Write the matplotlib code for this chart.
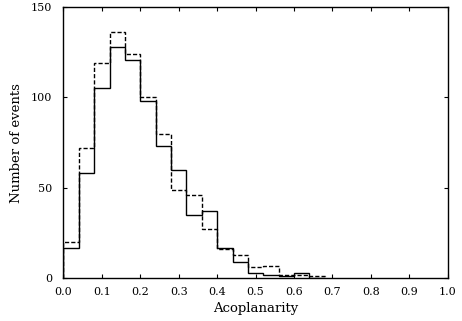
import matplotlib
matplotlib.use("Agg")
import matplotlib.pyplot as plt
import numpy as np

# acoplanarity histogram, bin width 0.04
bin_edges = [0.00, 0.04, 0.08, 0.12, 0.16, 0.20, 0.24, 0.28, 0.32,
             0.36, 0.40, 0.44, 0.48, 0.52, 0.56, 0.60, 0.64, 0.68]
solid_counts = [17, 58, 105, 128, 121, 98, 73, 60, 35, 37, 17, 9, 3, 2, 1, 3, 0]
dashed_counts = [20, 72, 119, 136, 124, 100, 80, 49, 46, 27, 16, 13, 6, 7, 2, 2, 1]

x_ticks = [0.0, 0.1, 0.2, 0.3, 0.4, 0.5, 0.6, 0.7, 0.8, 0.9, 1.0]
y_ticks = [0, 50, 100, 150]

plt.rcParams["font.family"] = "DejaVu Serif"

fig = plt.figure(figsize=(4.62, 3.21), dpi=100)
ax = fig.add_axes([0.1374, 0.133, 0.8316, 0.845])

ax.stairs(solid_counts, bin_edges, color="black", linewidth=1.0, linestyle="-")
ax.stairs(dashed_counts, bin_edges, color="black", linewidth=1.0, linestyle=(0, (3, 1.5)))

ax.set_xlim(0, 1.0)
ax.set_ylim(0, 150)
ax.set_xticks(x_ticks)
ax.set_xticklabels(["{:.1f}".format(t) for t in x_ticks])
ax.set_yticks(y_ticks)

ax.tick_params(direction="in", top=True, right=True, length=3, width=0.8,
               labelsize=8, pad=6)
ax.tick_params(axis="y", pad=8)
for s in ax.spines.values():
    s.set_linewidth(1.0)

ax.set_xlabel("Acoplanarity", fontsize=9.5, labelpad=4)
ax.set_ylabel("Number of events", fontsize=9.5, labelpad=6)

fig.savefig("out.png", dpi=100)
